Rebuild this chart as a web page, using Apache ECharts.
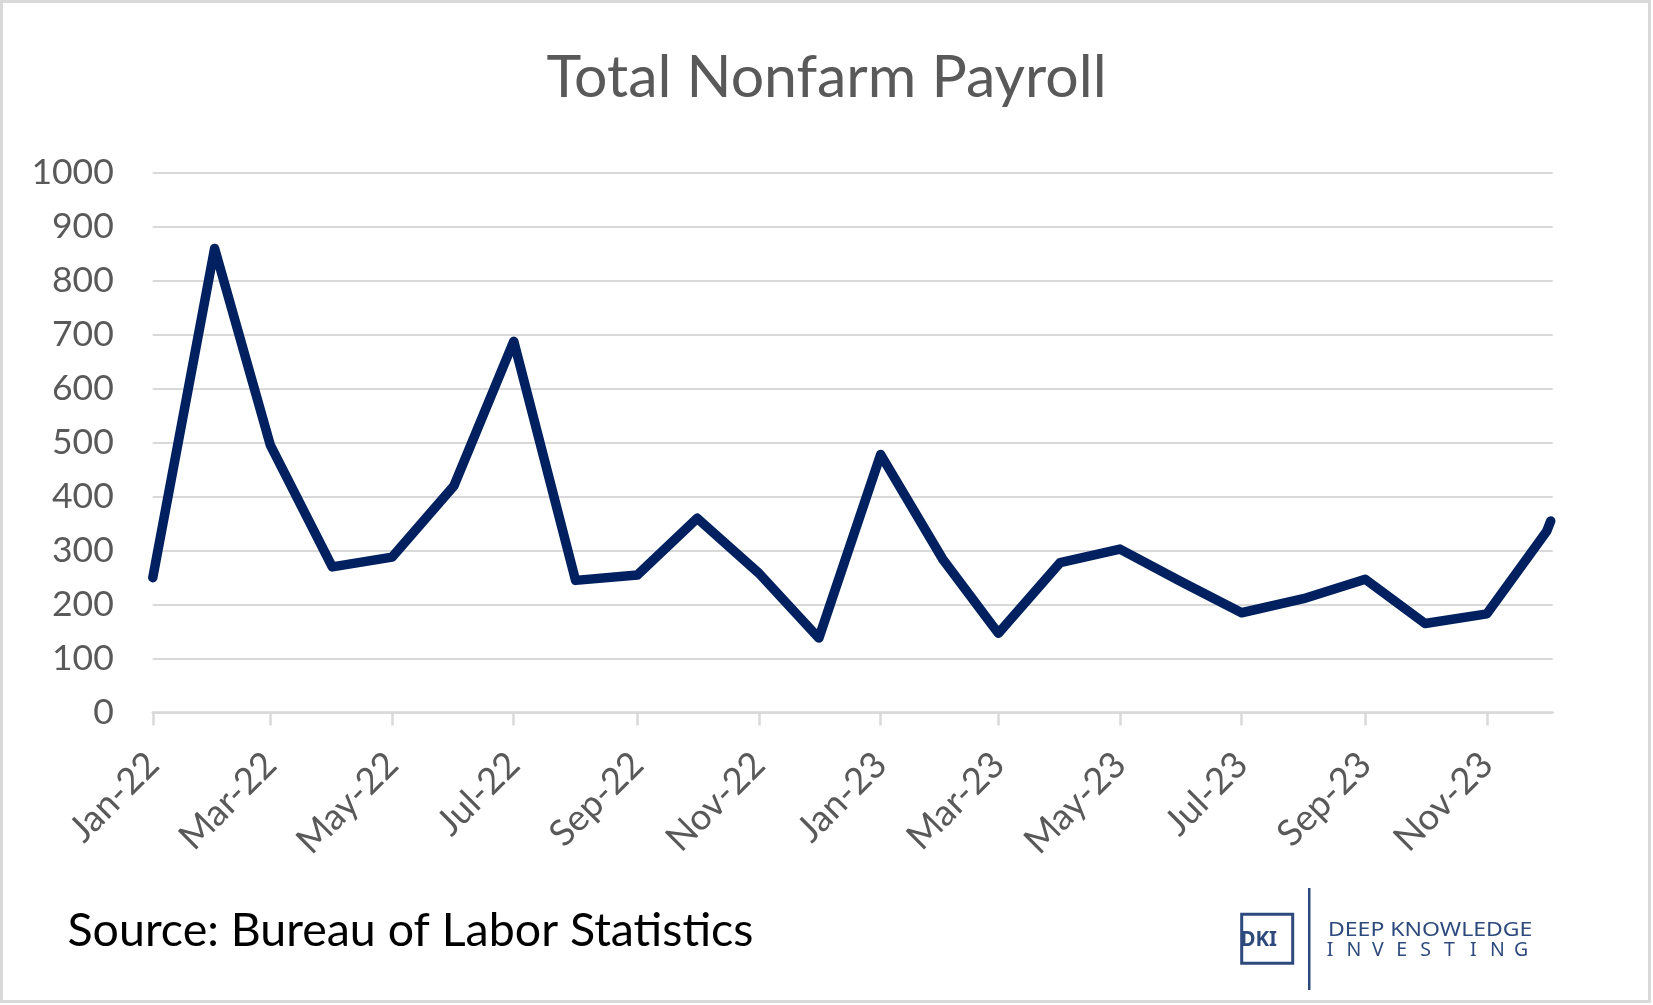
<!DOCTYPE html>
<html>
<head>
<meta charset="utf-8">
<script src="https://cdn.jsdelivr.net/npm/echarts@6/dist/echarts.min.js"></script>
<style>
  html, body { margin: 0; padding: 0; background: #ffffff; }
  #chart { width: 1653px; height: 1005px; }
</style>
</head>
<body>
<div id="chart"></div>
<script>
// ---- data ----
const pointDates = [
  '2022-01-01','2022-02-01','2022-03-01','2022-04-01','2022-05-01','2022-06-01',
  '2022-07-01','2022-08-01','2022-09-01','2022-10-01','2022-11-01','2022-12-01',
  '2023-01-01','2023-02-01','2023-03-01','2023-04-01','2023-05-01','2023-06-01',
  '2023-07-01','2023-08-01','2023-09-01','2023-10-01','2023-11-01','2023-12-01',
  '2023-12-03'
];
const payrollValues = [
  250, 860, 495, 270, 288, 420,
  688, 245, 255, 360, 258, 138,
  478, 285, 147, 278, 303, 242,
  185, 211, 247, 165, 183, 336,
  355
];
const tickDates = [
  '2022-01-01','2022-03-01','2022-05-01','2022-07-01','2022-09-01','2022-11-01',
  '2023-01-01','2023-03-01','2023-05-01','2023-07-01','2023-09-01','2023-11-01'
];
const tickLabels = [
  'Jan-22','Mar-22','May-22','Jul-22','Sep-22','Nov-22',
  'Jan-23','Mar-23','May-23','Jul-23','Sep-23','Nov-23'
];
const axisStartDate = '2022-01-01';
const axisEndDate = '2023-12-04';
const yTicks = { min: 0, max: 1000, interval: 100 };
const titleText = 'Total Nonfarm Payroll';
const sourceText = 'Source: Bureau of Labor Statistics';

// ---- helpers ----
const DAY = 86400000;
const t0 = Date.parse(axisStartDate + 'T00:00:00Z');
const toDay = d => Math.round((Date.parse(d + 'T00:00:00Z') - t0) / DAY);
const seriesData = pointDates.map((d, i) => [toDay(d), payrollValues[i]]);
const tickDays = tickDates.map(toDay);
const labelOf = v => { const i = tickDays.indexOf(v); return i >= 0 ? tickLabels[i] : ''; };

const FONT = 'Lato';
const GRID_COLOR = '#d9d9d9';
const TEXT_COLOR = '#595959';
const LOGO_COLOR = '#2e4a7d';

const chart = echarts.init(document.getElementById('chart'), null, { renderer: 'canvas' });

const investing = 'INVESTING'.split('');
const logoLetters = investing.map((ch, i) => ({
  type: 'text',
  x: 1330 + i * 23.9, y: 950,
  style: { text: ch, fill: LOGO_COLOR, font: '400 19.5px "Noto Sans"', textAlign: 'center', textVerticalAlign: 'middle' }
}));

chart.setOption({
  backgroundColor: '#ffffff',
  animation: false,
  grid: { left: 152.8, right: 100.3, top: 172.9, bottom: 292.4 },
  xAxis: {
    type: 'value',
    min: 0,
    max: toDay(axisEndDate),
    axisLine: { show: true, lineStyle: { color: GRID_COLOR, width: 2.5 } },
    axisTick: { show: true, length: 13, customValues: tickDays, lineStyle: { color: GRID_COLOR, width: 2.5 } },
    splitLine: { show: false },
    axisLabel: {
      customValues: tickDays,
      formatter: labelOf,
      rotate: 45,
      margin: 46,
      fontFamily: FONT,
      fontSize: 36.5,
      color: TEXT_COLOR
    }
  },
  yAxis: {
    type: 'value',
    min: yTicks.min,
    max: yTicks.max,
    interval: yTicks.interval,
    axisLine: { show: false },
    axisTick: { show: false },
    splitLine: { show: true, lineStyle: { color: GRID_COLOR, width: 2 } },
    axisLabel: { margin: 39, fontFamily: FONT, fontSize: 35.5, color: TEXT_COLOR, formatter: v => String(v) }
  },
  series: [{
    type: 'line',
    data: seriesData,
    showSymbol: false,
    clip: true,
    lineStyle: { color: '#002060', width: 9.5, cap: 'round', join: 'round' }
  }],
  graphic: [
    { type: 'rect', shape: { x: 1.5, y: 1.5, width: 1648, height: 1000 }, style: { fill: 'none', stroke: GRID_COLOR, lineWidth: 3 }, silent: true },
    { type: 'text', x: 826.5, y: 78, style: { text: titleText, fill: TEXT_COLOR, font: '400 59px Lato', textAlign: 'center', textVerticalAlign: 'middle' } },
    { type: 'text', x: 67.5, y: 931, style: { text: sourceText, fill: '#000000', font: '400 46.5px Lato', textAlign: 'left', textVerticalAlign: 'middle' } },
    { type: 'rect', shape: { x: 1241.7, y: 914.3, width: 51, height: 49 }, style: { fill: 'none', stroke: LOGO_COLOR, lineWidth: 3 } },
    { type: 'text', x: 1240.5, y: 940, style: { text: 'DKI', fill: LOGO_COLOR, font: '700 20.5px "Noto Sans"', textAlign: 'left', textVerticalAlign: 'middle' } },
    { type: 'rect', shape: { x: 1308, y: 888, width: 2.5, height: 102 }, style: { fill: LOGO_COLOR } },
    { type: 'text', x: 1328, y: 930, scaleX: 1.18, style: { text: 'DEEP KNOWLEDGE', fill: LOGO_COLOR, font: '400 19.5px "Noto Sans"', textAlign: 'left', textVerticalAlign: 'middle' } }
  ].concat(logoLetters)
});
</script>
</body>
</html>
